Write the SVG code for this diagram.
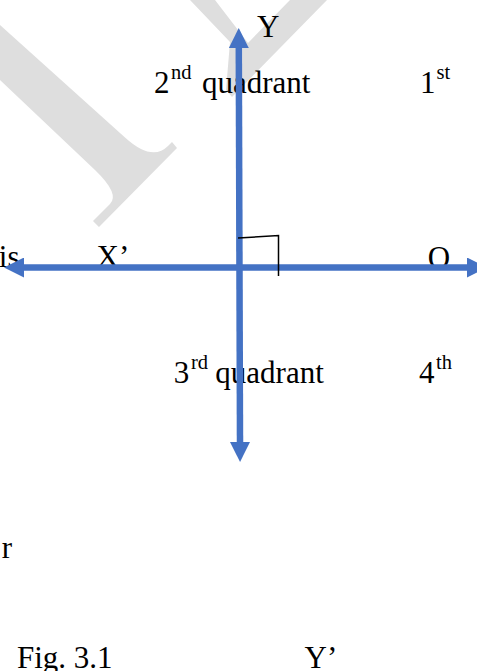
<svg xmlns="http://www.w3.org/2000/svg" width="477" height="671" viewBox="0 0 477 671">
  <style>
    .t { font-family: "Liberation Serif", "Times New Roman", serif; font-size: 31px; fill: #000; }
    .sup { font-size: 20.5px; }
    .wm { fill: #dedede; }
    .axis { stroke: #4472C4; stroke-width: 6.5; fill: none; }
    .mark { stroke: #000; stroke-width: 1.5; fill: none; }
  </style>
  <defs>
    <marker id="arrow" viewBox="0 0 20 20" markerWidth="20" markerHeight="20" markerUnits="userSpaceOnUse" refX="0" refY="10" orient="auto-start-reverse">
      <path d="M0,0 L20,10 L0,20 Z" fill="#4472C4"/>
    </marker>
  </defs>

  <g id="watermark">
    <path class="wm" d="M0,25 L125,137.5 Q152,162 168,146 L172,142 L177,148 L99,227 L93,221 L110,204 Q120,194 95,170 L0,80 Z"/>
    <path class="wm" d="M190,0 L215,0 L248,43 L290,0 L327,0 L232,97 L226,90 L230,42 Z"/>
  </g>

  <g id="labels">
    <g id="label-Y"><text class="t" x="257" y="36.5">Y</text></g>
    <g id="label-q2">
      <text class="t" x="154" y="92.5">2</text>
      <text class="t sup" x="171" y="78.5">nd</text>
      <text class="t" x="202" y="92.5">quadrant</text>
    </g>
    <g id="label-q1">
      <text class="t" x="420" y="92.5">1</text>
      <text class="t sup" x="436.5" y="78.5">st</text>
    </g>
    <g id="label-axis-left"><text class="t" x="19.5" y="267" text-anchor="end">is</text></g>
    <g id="label-X"><text class="t" x="96.5" y="267">X’</text></g>
    <g id="label-O"><text class="t" x="427.7" y="267.5">O</text></g>
    <g id="label-q3">
      <text class="t" x="173.7" y="383">3</text>
      <text class="t sup" x="191" y="369">rd</text>
      <text class="t" x="215.3" y="383">quadrant</text>
    </g>
    <g id="label-q4">
      <text class="t" x="419" y="383">4</text>
      <text class="t sup" x="436" y="369">th</text>
    </g>
    <g id="label-r"><text class="t" x="12" y="558" text-anchor="end">r</text></g>
    <g id="label-fig"><text class="t" x="17" y="668">Fig. 3.1</text></g>
    <g id="label-Yprime"><text class="t" x="304.5" y="668">Y’</text></g>
  </g>

  <g id="connectors">
    <line class="axis" x1="238.8" y1="48" x2="240" y2="442" marker-start="url(#arrow)" marker-end="url(#arrow)"/>
    <line class="axis" x1="24" y1="267.5" x2="467" y2="267.5" marker-start="url(#arrow)" marker-end="url(#arrow)"/>
    <polyline class="mark" points="238,238 278.5,235.5 278.5,276"/>
  </g>
</svg>
